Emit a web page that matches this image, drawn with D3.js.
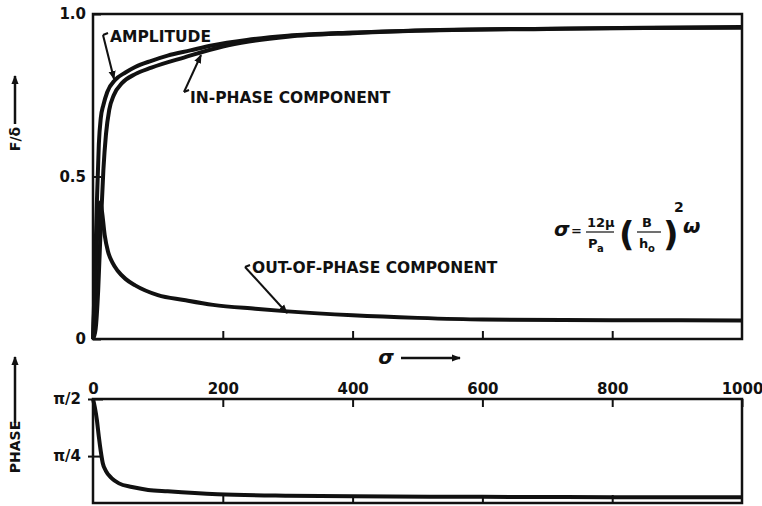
<!DOCTYPE html>
<html>
<head>
<meta charset="utf-8">
<script src="https://cdn.jsdelivr.net/npm/d3@7"></script>
<style>
body { margin: 0; background: #fff; }
text { font-family: "DejaVu Sans", sans-serif; font-weight: bold; fill: #111; }
</style>
</head>
<body>
<svg id="chart" width="762" height="506"></svg>
<script>
// values
var ampSigma = [0, 3, 6, 9, 12, 16, 22, 34, 50, 65, 90, 115, 150, 183, 237, 300, 400, 534, 700, 850, 1000];
var amplitude = [0, 0.2, 0.42, 0.6, 0.68, 0.72, 0.76, 0.797, 0.82, 0.837, 0.856, 0.872, 0.888, 0.903, 0.92, 0.933, 0.943, 0.951, 0.955, 0.958, 0.96];

var inSigma = [0, 4, 8, 12, 16, 20, 25, 32, 45, 65, 90, 140, 200, 240, 300, 400, 534, 700, 850, 1000];
var inPhase = [0, 0.03, 0.15, 0.35, 0.52, 0.63, 0.705, 0.75, 0.788, 0.815, 0.835, 0.866, 0.9, 0.915, 0.93, 0.941, 0.95, 0.954, 0.957, 0.958];

var outSigma = [0, 4, 8, 11, 14, 18, 23, 30, 38, 50, 65, 100, 140, 185, 250, 300, 400, 500, 600, 800, 1000];
var outPhase = [0, 0.2, 0.38, 0.42, 0.39, 0.32, 0.27, 0.235, 0.21, 0.185, 0.165, 0.135, 0.12, 0.105, 0.093, 0.085, 0.073, 0.065, 0.06, 0.058, 0.057];

var phaseSigma = [0, 3, 6, 9, 12, 15, 20, 29, 40, 60, 85, 115, 192, 300, 400, 600, 800, 1000];
var phase = [1.571, 1.45, 1.28, 1.05, 0.85, 0.69, 0.58, 0.48, 0.41, 0.36, 0.32, 0.30, 0.26, 0.24, 0.233, 0.225, 0.22, 0.22];

var xTicks = [0, 200, 400, 600, 800, 1000];
var fTicks = [0, 0.5, 1.0];
var fTickLabels = ["0", "0.5", "1.0"];
var phaseTicks = [Math.PI / 4, Math.PI / 2];
var phaseTickLabels = ["\u03c0/4", "\u03c0/2"];

var svg = d3.select('#chart');

var left = 93, right = 742;
var x = d3.scaleLinear().domain([0, 1000]).range([left, right]);
var yF = d3.scaleLinear().domain([0, 1]).range([339, 14]);
var yP = d3.scaleLinear().domain([0.14, Math.PI / 2]).range([503, 399]);

// arrow marker
svg.append('defs').append('marker')
    .attr('id', 'arr')
    .attr('viewBox', '0 0 10 10')
    .attr('refX', 9).attr('refY', 5)
    .attr('markerWidth', 9).attr('markerHeight', 9)
    .attr('markerUnits', 'userSpaceOnUse')
    .attr('orient', 'auto')
    .append('path').attr('d', 'M0,1 L10,5 L0,9 Z').attr('fill', '#111');

var zip = function(xs, ys) { return xs.map(function(d, i) { return [d, ys[i]]; }); };

// ---------- top panel ----------
var topPanel = svg.append('g');

topPanel.append('rect')
    .attr('x', x(0)).attr('y', yF(1))
    .attr('width', x(1000) - x(0)).attr('height', yF(0) - yF(1))
    .attr('fill', 'none').attr('stroke', '#111').attr('stroke-width', 2.5);

var fLine = d3.line().x(function(d) { return x(d[0]); }).y(function(d) { return yF(d[1]); })
    .curve(d3.curveMonotoneX);

[zip(ampSigma, amplitude), zip(inSigma, inPhase), zip(outSigma, outPhase)].forEach(function(s) {
    topPanel.append('path').datum(s)
        .attr('d', fLine)
        .attr('fill', 'none').attr('stroke', '#111').attr('stroke-width', 4)
        .attr('stroke-linejoin', 'round');
});

var topX = topPanel.append('g')
    .attr('transform', 'translate(0,' + yF(0) + ')')
    .call(d3.axisTop(x).tickValues([200, 400, 600, 800]).tickSize(8).tickFormat(''));
topX.select('.domain').remove();
topX.selectAll('line').attr('stroke', '#111').attr('stroke-width', 2);

var fAxis = topPanel.append('g')
    .attr('transform', 'translate(' + left + ',0)')
    .call(d3.axisLeft(yF).tickValues(fTicks).tickSizeInner(-8).tickSizeOuter(0).tickPadding(7)
        .tickFormat(function(d, i) { return fTickLabels[i]; }));
fAxis.select('.domain').remove();
fAxis.selectAll('line').attr('stroke', '#111').attr('stroke-width', 2);
fAxis.selectAll('text').attr('font-size', 15).attr('font-family', 'DejaVu Sans').attr('fill', '#111');

// y label F/δ with arrow
svg.append('text')
    .attr('transform', 'translate(20,139) rotate(-90)')
    .attr('text-anchor', 'middle').attr('font-size', 14)
    .text('F/\u03b4');
svg.append('line')
    .attr('x1', 15).attr('y1', 124).attr('x2', 15).attr('y2', 76)
    .attr('stroke', '#111').attr('stroke-width', 2.5).attr('marker-end', 'url(#arr)');

// sigma with arrow
svg.append('text')
    .attr('x', 386).attr('y', 364).attr('text-anchor', 'middle')
    .attr('font-size', 20).attr('font-family', 'DejaVu Serif').attr('font-style', 'italic')
    .text('\u03c3');
svg.append('line')
    .attr('x1', 401).attr('y1', 358).attr('x2', 460).attr('y2', 358)
    .attr('stroke', '#111').attr('stroke-width', 2.5).attr('marker-end', 'url(#arr)');

// annotations
var note = function(label, tx, ty, hx, hy, ax, ay) {
    svg.append('text').attr('x', tx).attr('y', ty).attr('font-size', 15.5).text(label);
    svg.append('line')
        .attr('x1', hx).attr('y1', hy).attr('x2', ax).attr('y2', ay)
        .attr('stroke', '#111').attr('stroke-width', 2).attr('marker-end', 'url(#arr)');
    svg.append('line')
        .attr('x1', hx).attr('y1', hy).attr('x2', hx + 5).attr('y2', hy - 2)
        .attr('stroke', '#111').attr('stroke-width', 2);
};
note('AMPLITUDE', 110, 42, 103, 35, 114, 79);
note('IN-PHASE COMPONENT', 190, 103, 184, 92, 201, 55);
note('OUT-OF-PHASE COMPONENT', 252, 273, 245, 267, 287, 313);

// formula
var fg = svg.append('g').attr('font-family', 'DejaVu Sans');
fg.append('text').attr('x', 554).attr('y', 236).attr('font-size', 20)
    .attr('font-family', 'DejaVu Serif').attr('font-style', 'italic').text('\u03c3');
fg.append('text').attr('x', 571).attr('y', 235).attr('font-size', 13).text('=');
fg.append('text').attr('x', 587).attr('y', 227).attr('font-size', 13).text('12\u03bc');
fg.append('line').attr('x1', 586).attr('x2', 614).attr('y1', 232).attr('y2', 232)
    .attr('stroke', '#111').attr('stroke-width', 1.2);
fg.append('text').attr('x', 588).attr('y', 248).attr('font-size', 13).text('P');
fg.append('text').attr('x', 597).attr('y', 252).attr('font-size', 10).text('a');
fg.append('text').attr('x', 619).attr('y', 246).attr('font-size', 34).attr('font-weight', 'normal').text('(');
fg.append('text').attr('x', 642).attr('y', 227).attr('font-size', 13).text('B');
fg.append('line').attr('x1', 637).attr('x2', 661).attr('y1', 232).attr('y2', 232)
    .attr('stroke', '#111').attr('stroke-width', 1.2);
fg.append('text').attr('x', 639).attr('y', 248).attr('font-size', 13).text('h');
fg.append('text').attr('x', 648).attr('y', 252).attr('font-size', 10).text('o');
fg.append('text').attr('x', 663).attr('y', 246).attr('font-size', 34).attr('font-weight', 'normal').text(')');
fg.append('text').attr('x', 674).attr('y', 212).attr('font-size', 14).text('2');
fg.append('text').attr('x', 683).attr('y', 233).attr('font-size', 20)
    .attr('font-family', 'DejaVu Serif').attr('font-style', 'italic').text('\u03c9');

// ---------- bottom panel ----------
var botPanel = svg.append('g');

botPanel.append('rect')
    .attr('x', x(0)).attr('y', yP(Math.PI / 2))
    .attr('width', x(1000) - x(0)).attr('height', yP.range()[0] - yP(Math.PI / 2))
    .attr('fill', 'none').attr('stroke', '#111').attr('stroke-width', 2.5);

var pLine = d3.line().x(function(d) { return x(d[0]); }).y(function(d) { return yP(d[1]); })
    .curve(d3.curveMonotoneX);
botPanel.append('path').datum(zip(phaseSigma, phase))
    .attr('d', pLine)
    .attr('fill', 'none').attr('stroke', '#111').attr('stroke-width', 4)
    .attr('stroke-linejoin', 'round');

var botTop = botPanel.append('g')
    .attr('transform', 'translate(0,' + yP(Math.PI / 2) + ')')
    .call(d3.axisTop(x).tickValues(xTicks).tickSizeInner(-8).tickSizeOuter(0).tickPadding(5)
        .tickFormat(d3.format('d')));
botTop.select('.domain').remove();
botTop.selectAll('line').attr('stroke', '#111').attr('stroke-width', 2);
botTop.selectAll('text').attr('font-size', 15).attr('font-family', 'DejaVu Sans').attr('fill', '#111');

var botBottom = botPanel.append('g')
    .attr('transform', 'translate(0,' + yP.range()[0] + ')')
    .call(d3.axisTop(x).tickValues([200, 400, 600, 800]).tickSize(8).tickFormat(''));
botBottom.select('.domain').remove();
botBottom.selectAll('line').attr('stroke', '#111').attr('stroke-width', 2);

var pAxis = botPanel.append('g')
    .attr('transform', 'translate(' + left + ',0)')
    .call(d3.axisLeft(yP).tickValues(phaseTicks).tickSizeInner(-10).tickSizeOuter(0).tickPadding(12)
        .tickFormat(function(d, i) { return phaseTickLabels[i]; }));
pAxis.select('.domain').remove();
pAxis.selectAll('line').attr('x1', -5).attr('stroke', '#111').attr('stroke-width', 2);
pAxis.selectAll('text').attr('font-size', 15).attr('font-family', 'DejaVu Serif').attr('fill', '#111');

// PHASE label with arrow
svg.append('text')
    .attr('transform', 'translate(20,447) rotate(-90)')
    .attr('text-anchor', 'middle').attr('font-size', 14)
    .text('PHASE');
svg.append('line')
    .attr('x1', 15).attr('y1', 423).attr('x2', 15).attr('y2', 357)
    .attr('stroke', '#111').attr('stroke-width', 2.5).attr('marker-end', 'url(#arr)');
</script>
</body>
</html>
